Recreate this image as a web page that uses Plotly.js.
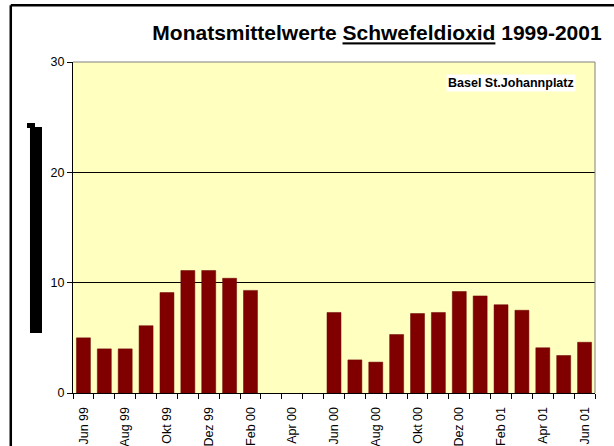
<!DOCTYPE html>
<html>
<head>
<meta charset="utf-8">
<script src="https://cdn.plot.ly/plotly-3.0.1.min.js"></script>
<style>
html,body{margin:0;padding:0;background:#fff;overflow:hidden;width:614px;height:446px;}
#chart{position:absolute;left:0;top:0;width:614px;height:446px;}
</style>
</head>
<body>
<div id="chart"></div>
<script>
const months = ["Jun 99","Jul 99","Aug 99","Sep 99","Okt 99","Nov 99","Dez 99","Jan 00","Feb 00","Mär 00","Apr 00","Mai 00",
  "Jun 00","Jul 00","Aug 00","Sep 00","Okt 00","Nov 00","Dez 00","Jan 01","Feb 01","Mär 01","Apr 01","Mai 01","Jun 01"];
const so2 = [5.0,4.0,4.0,6.1,9.1,11.1,11.1,10.4,9.3,null,null,null,
  7.3,3.0,2.8,5.3,7.2,7.3,9.2,8.8,8.0,7.5,4.1,3.4,4.6];
const shownLabels = ["Jun 99","Aug 99","Okt 99","Dez 99","Feb 00","Apr 00","Jun 00","Aug 00","Okt 00","Dez 00","Feb 01","Apr 01","Jun 01"];
const tickText = months.map(m => shownLabels.includes(m) ? m : "");
const yTicks = [0,10,20,30];

const font = "Liberation Sans, Arial, sans-serif";

const trace = {
  type: "bar",
  x: months,
  y: so2,
  marker: {color: "#800000", line: {color: "#6a0000", width: 0.5}},
  hoverinfo: "x+y"
};

const layout = {
  width: 614, height: 446,
  autosize: false,
  margin: {l: 73, r: 19, t: 62, b: 53},
  paper_bgcolor: "#ffffff",
  plot_bgcolor: "#ffffc0",
  showlegend: false,
  bargap: 0.33,
  font: {family: font, color: "#000"},
  title: {
    text: "<b>Monatsmittelwerte <u>Schwefeldioxid</u> 1999-2001</b>",
    font: {family: font, size: 21, color: "#000"},
    x: 0.614, xanchor: "center", xref: "container",
    y: 0.926, yanchor: "middle", yref: "container"
  },
  xaxis: {
    type: "category",
    categoryorder: "array", categoryarray: months,
    tickmode: "array", tickvals: months, ticktext: tickText,
    tickson: "boundaries",
    ticks: "outside", ticklen: 5, tickcolor: "#000", tickwidth: 1,
    tickangle: -90,
    ticklabelstandoff: 8,
    tickfont: {family: font, size: 12.5, color: "#000"},
    showline: true, linecolor: "#000", linewidth: 1,
    showgrid: false, zeroline: false,
    fixedrange: true
  },
  yaxis: {
    range: [0, 30],
    tickmode: "array", tickvals: yTicks,
    ticks: "outside", ticklen: 5, tickcolor: "#000", tickwidth: 1,
    tickfont: {family: font, size: 12.5, color: "#000"},
    showline: true, linecolor: "#000", linewidth: 1,
    showgrid: true, gridcolor: "#000", gridwidth: 1,
    zeroline: false,
    fixedrange: true
  },
  shapes: [
    {type: "line", xref: "paper", yref: "paper", x0: 0, x1: 1, y0: 1, y1: 1, line: {color: "#808080", width: 1}},
    {type: "line", xref: "paper", yref: "paper", x0: 1, x1: 1, y0: 0, y1: 1, line: {color: "#808080", width: 1}},
    {type: "rect", xref: "paper", yref: "paper", x0: -0.0824, x1: -0.0594, y0: 0.1813, y1: 0.8036,
     fillcolor: "#000", line: {width: 0}},
    {type: "rect", xref: "paper", yref: "paper", x0: -0.0881, x1: -0.0728, y0: 0.8006, y1: 0.8157,
     fillcolor: "#000", line: {width: 0}},
    {type: "line", xref: "paper", yref: "paper", x0: -0.1192, x1: 1.2, y0: 1.1712, y1: 1.1712,
     line: {color: "#000", width: 2.5}},
    {type: "line", xref: "paper", yref: "paper", x0: -0.1192, x1: -0.1192, y0: -0.3, y1: 1.1712,
     line: {color: "#000", width: 2.5}}
  ],
  annotations: [
    {text: "<b>Basel St.Johannplatz</b>", xref: "paper", yref: "paper",
     x: 0.839, y: 0.9356, xanchor: "center", yanchor: "middle", showarrow: false,
     bgcolor: "#ffffff", borderpad: 1,
     font: {family: font, size: 12.5, color: "#000"}}
  ]
};

Plotly.newPlot("chart", [trace], layout, {displayModeBar: false, staticPlot: true, responsive: false});
</script>
</body>
</html>
